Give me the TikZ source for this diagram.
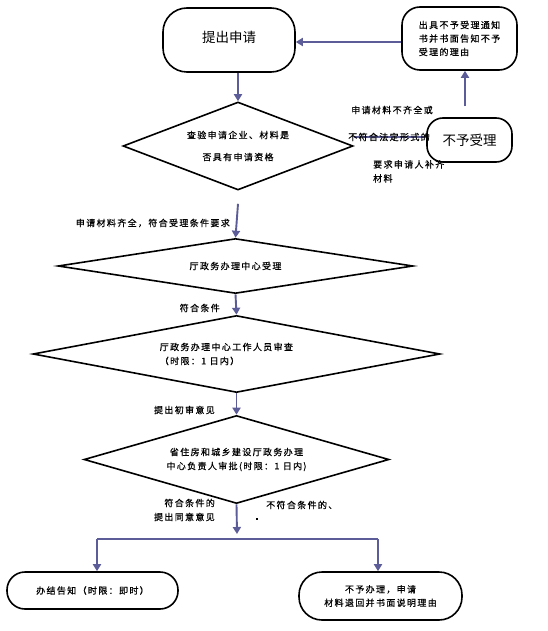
\documentclass[tikz,border=0pt]{standalone}
\usepackage{fontspec}
\newfontfamily\cjk[LetterSpace=15,FakeBold=0.6]{Noto Sans CJK SC}
\newfontfamily\cjkbig{Noto Sans CJK SC}
\usetikzlibrary{shapes.geometric,arrows.meta}
\definecolor{arrowblue}{RGB}{92,92,152}
\tikzset{
  flowline/.style={draw=black, line width=1.6pt},
  rbox/.style={flowline, rectangle, inner sep=0pt, align=center, font=\cjk\fontsize{9}{13.5}\selectfont},
  dia/.style={flowline, diamond, inner sep=0pt, align=center, font=\cjk\fontsize{9}{14}\selectfont},
  conn/.style={draw=arrowblue, line width=1.9pt},
  arr/.style={conn, -{Triangle[length=7pt,width=8pt]}},
  lbl/.style={inner sep=0pt, font=\cjk\fontsize{9}{14}\selectfont},
  big/.style={font=\cjkbig\fontsize{13.5}{16}\selectfont},
}
\begin{document}
\begin{tikzpicture}[x=1pt,y=-1pt]
\useasboundingbox (0,0) rectangle (548,631);
\fill[white] (0,0) rectangle (548,631);

% boxes
\node[rbox, big, minimum width=132pt, minimum height=64pt, rounded corners=24pt] (apply) at (229,40) {\raisebox{6pt}{提出申请}};
\node[rbox, minimum width=115pt, minimum height=63pt, rounded corners=18pt, align=left] (notice) at (459.5,38.5) {出具不予受理通知\\书并书面告知不予\\受理的理由};
\node[rbox, big, minimum width=85pt, minimum height=44pt, rounded corners=16pt] (reject) at (469.5,140) {不予受理};
\node[rbox, minimum width=171pt, minimum height=37pt, rounded corners=18pt] (done) at (92.5,590.5) {办结告知（时限：即时）};
\node[rbox, minimum width=163pt, minimum height=48pt, rounded corners=23pt] (refuse) at (380.5,596) {不予办理，申请\\材料退回并书面说明理由};

% diamonds
\node[dia, minimum width=230pt, minimum height=88pt, aspect=2.6] (check) at (238,146) {查验申请企业、材料是\\[8pt]否具有申请资格};
\node[dia, minimum width=355pt, minimum height=55pt, aspect=6.4] (accept) at (235.5,266) {厅政务办理中心受理};
\node[dia, minimum width=407pt, minimum height=77pt, aspect=5.3, align=left] (review) at (236.5,354) {厅政务办理中心工作人员审查\\（时限：1 日内）\hspace*{74pt}};
\node[dia, minimum width=305pt, minimum height=88pt, aspect=3.4] (approve) at (236.5,459.5) {省住房和城乡建设厅政务办理\\中心负责人审批(时限：1 日内)};

% connectors
\draw[arr] (check.north |- apply.south) -- (check.north);
\draw[arr] ([yshift=-13pt]check.south) -- (accept.north);
\draw[arr] (accept.south) -- (review.north);
\draw[arr] (review.south) -- (approve.north);
\coordinate (split) at (237,539);
\coordinate (sl) at (97,539);
\coordinate (sr) at (378,539);
\draw[arr] (approve.south) -- ([yshift=5pt]split);
\draw[conn, line width=1.3pt] (sl) -- (sr);
\draw[arr] (sl) -- (sl |- done.north);
\draw[arr] (sr) -- (sr |- refuse.north);
\draw[arr] ([xshift=-4.5pt,yshift=11pt]reject.north) -- ([xshift=-4.5pt]reject.north |- notice.south);
\draw[arr] ([yshift=-3.5pt]notice.west) -- ([yshift=-3.5pt]notice.west -| apply.east);
\draw[conn] ([yshift=3pt]reject.west) -- ([yshift=3pt]reject.west -| check.east);

% labels
\node[lbl] (l1) at (392,110) {申请材料不齐全或};
\node[lbl] (l2) at (389,137) {不符合法定形式的};
\node[lbl, align=left, anchor=north west] (l3) at (373,160) {要求申请人补齐\\材料};
\node[lbl, anchor=east] (l4) at (230,223) {申请材料齐全，符合受理条件要求};
\node[lbl, anchor=east] (l5) at (220,308) {符合条件};
\node[lbl, anchor=east] (l6) at (215,410) {提出初审意见};
\node[lbl, anchor=east, align=right] (l7) at (215,510) {符合条件的\\提出同意意见};
\node[lbl, anchor=west] (l8) at (266,505) {不符合条件的、};
\node[fill=black, inner sep=0pt, minimum width=2.5pt, minimum height=2pt] (dot) at (257,519) {};
\end{tikzpicture}
\end{document}
